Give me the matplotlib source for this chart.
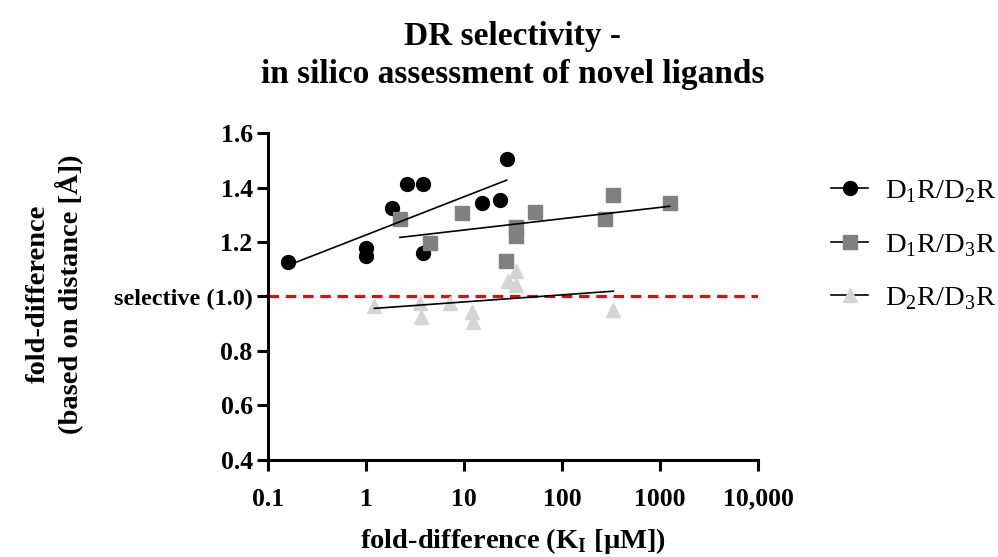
import numpy as np
import matplotlib
matplotlib.use("Agg")
import matplotlib.pyplot as plt
from matplotlib.lines import Line2D

plt.rcParams['font.family'] = ['Liberation Serif', 'DejaVu Serif']
plt.rcParams['mathtext.fontset'] = 'custom'
plt.rcParams['mathtext.rm'] = 'Liberation Serif'
plt.rcParams['mathtext.bf'] = 'Liberation Serif:bold'

# D1R/D2R
d12_x = [0.16, 1.0, 1.0, 1.85, 2.64, 3.79, 3.79, 15.2, 23.5, 27.3]
d12_y = [1.128, 1.177, 1.149, 1.326, 1.412, 1.412, 1.159, 1.343, 1.355, 1.503]
# D1R/D3R
d13_x = [2.22, 4.5, 9.5, 26.6, 33.7, 34.0, 53.0, 277, 334, 1256]
d13_y = [1.283, 1.195, 1.305, 1.131, 1.256, 1.222, 1.311, 1.283, 1.371, 1.342]
# D2R/D3R
d23_x = [1.22, 3.56, 3.66, 7.15, 12.1, 12.3, 27.9, 34.0, 34.0, 334]
d23_y = [0.966, 0.975, 0.924, 0.975, 0.942, 0.908, 1.057, 1.094, 1.042, 0.95]

xticks = [0.1, 1, 10, 100, 1000, 10000]
xlabels = ['0.1', '1', '10', '100', '1000', '10,000']
yticks = [0.4, 0.6, 0.8, 1.0, 1.2, 1.4, 1.6]
ylabels = ['0.4', '0.6', '0.8', 'selective (1.0)', '1.2', '1.4', '1.6']

series = [
    (d12_x, d12_y, 'o', 'black', 10, r'D$_1$R/D$_2$R'),
    (d13_x, d13_y, 's', '#808080', 10, r'D$_1$R/D$_3$R'),
    (d23_x, d23_y, '^', '#d4d4d4', 10, r'D$_2$R/D$_3$R'),
]

fig = plt.figure(figsize=(9.98, 5.57), dpi=100)
ax = fig.add_axes([0.2685, 0.1742, 0.491, 0.587])

ax.axhline(1.0, color='red', lw=2.3, ls=(0, (3.3, 2.1)), zorder=1)

handles = []
for x, y, m, c, ms, lab in series:
    ax.plot(x, y, ls='none', marker=m, color=c, ms=ms, mec=c, zorder=3)
    lx = np.log10(x)
    k, b = np.polyfit(lx, y, 1)
    xs = np.array([min(lx), max(lx)])
    ax.plot(10 ** xs, k * xs + b, color='black', lw=1.2, zorder=4)
    handles.append(Line2D([], [], color='black', lw=1.2, marker=m,
                          mfc=c, mec=c, ms=ms))

ax.set_xscale('log')
ax.set_xlim(0.1, 10000)
ax.set_ylim(0.4, 1.6)
ax.set_xticks(xticks)
ax.set_xticklabels(xlabels)
ax.xaxis.set_minor_locator(matplotlib.ticker.NullLocator())
ax.set_yticks(yticks)
ax.set_yticklabels(ylabels)
for lbl in ax.get_xticklabels() + ax.get_yticklabels():
    lbl.set_fontweight('bold')
    lbl.set_fontsize(18.5)
ax.get_yticklabels()[3].set_fontsize(17.5)

for s in ['top', 'right']:
    ax.spines[s].set_visible(False)
for s in ['left', 'bottom']:
    ax.spines[s].set_linewidth(2.2)
ax.tick_params(width=2.2, length=8, pad=3)
ax.tick_params(axis='x', pad=12)

fig.text(0.514, 0.028, r'fold-difference (K$_\mathbf{I}$ [µM])', fontsize=20.5,
         fontweight='bold', ha='center', va='center')
fig.text(0.055, 0.472, 'fold-difference\n(based on distance [Å])', fontsize=20.5,
         fontweight='bold', ha='center', va='center', rotation=90,
         linespacing=1.15)

fig.text(0.514, 0.962, 'DR selectivity -\nin silico assessment of novel ligands',
         ha='center', va='top', fontsize=24, fontweight='bold', linespacing=1.27)

fig.legend(handles, [s[5] for s in series], loc='upper left',
           bbox_to_anchor=(0.833, 0.68), frameon=False, fontsize=20.5,
           handlelength=1.3, labelspacing=0.94, handletextpad=0.6,
           borderaxespad=0, borderpad=0)

fig.savefig('out.png', dpi=100)
